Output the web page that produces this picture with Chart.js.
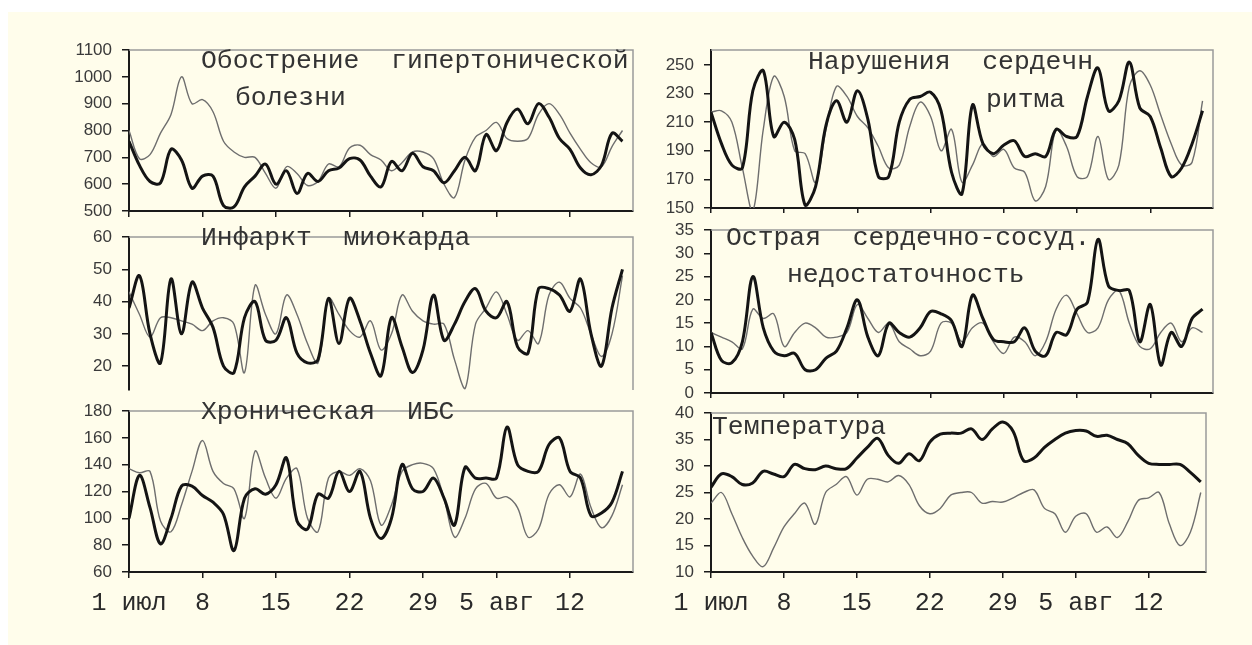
<!DOCTYPE html>
<html>
<head>
<meta charset="utf-8">
<script src="https://cdn.jsdelivr.net/npm/chart.js@4.4.1/dist/chart.umd.min.js"></script>
<style>
  html, body { margin: 0; padding: 0; background: #fff; }
  #page { position: relative; width: 1252px; height: 645px; overflow: hidden; background: #fff; }
  #bg { position: absolute; left: 8px; top: 12px; right: 0; bottom: 0; background: #fffdeb; }
  .wrap { position: absolute; overflow: hidden; }
  canvas { position: absolute; left: 0; top: 0; }
</style>
</head>
<body>
<div id="page"><div id="bg"></div></div>
<script>
// days since 1 July
const days = [0,1,2,3,4,5,6,7,8,9,10,11,12,13,14,15,16,17,18,19,20,21,22,23,
              24,25,26,27,28,29,30,31,32,33,34,35,36,37,38,39,40,41,42,43,44,45,46,47];
const xTicks = [0,7,14,21,28,35,42];
const xTickLabels = ['1 июл','8','15','22','29','5 авг','12'];

// Обострение гипертонической болезни
const hypertBold = [760,670,610,605,730,690,585,630,630,520,515,590,630,675,600,650,565,640,610,650,660,695,690,630,
                    590,685,650,715,665,650,605,650,700,650,785,725,830,880,825,900,850,770,730,660,635,670,790,760];
const hypertThin = [800,695,710,790,860,1000,900,915,870,760,720,700,700,640,585,665,640,595,610,675,665,735,745,710,
                    690,650,680,720,720,695,600,550,690,775,800,830,770,760,770,860,900,860,790,730,680,665,740,800];

// Нарушения сердечного ритма
const rhythmBold = [217,195,180,178,232,246,200,210,198,152,165,208,225,210,232,212,172,172,210,226,228,231,218,175,
                    160,222,195,188,194,197,186,188,186,205,200,200,228,248,218,225,252,220,214,192,172,178,195,218];
const rhythmThin = [217,218,210,178,148,205,242,228,190,188,168,205,235,228,214,206,193,178,180,207,224,214,190,205,
                    168,180,195,186,191,178,175,155,165,205,193,172,172,200,170,180,235,246,236,215,195,180,182,225];

// Инфаркт миокарда
const infarctBold = [38,48,30,21,47,30,46,38,32,20,18,35,40,28,28,35,24,21,22,41,27,41,34,24,
                     17,35,26,18,25,42,28,33,40,44,37,35,40,26,24,44,44,42,37,47,30,20,38,50];
const infarctThin = [43,36,29,35,35,34,33,31,34,35,33,18,45,36,30,42,36,27,21,41,36,31,29,34,
                     25,30,42,37,34,33,33,22,13,33,38,43,36,28,31,27,42,46,41,38,30,23,30,48];

// Острая сердечно-сосудистая недостаточность
const acuteBold = [13,7,6.5,11,25,14,9,8,8.5,5,5,7.5,9,14,20,12,8,15,13,12,14,17.5,17,15.5,
                   10,21,16,11.5,11,11,14,9,8,13,12.5,18,19.5,33,23,22,22,11,19,6,13,10,16,18];
const acuteThin = [13,12,11,9.5,18,16,17,10,13,15,14,12,12,13,19,16,13,15,11,9.5,8,9,15,15,
                   11,14,15,11,8.5,12,11,8,11,18,21,17,13,14,20,22,15,10,9.5,13,15,11,14,13];

// Хроническая ИБС
const ibsBold = [100,132,108,81,100,124,124,117,112,103,76,115,122,118,125,145,98,92,118,115,135,120,135,100,
                 85,100,140,122,120,130,115,95,138,130,130,130,168,140,135,135,155,160,135,130,102,104,112,135];
const ibsThin = [137,134,135,98,90,110,135,158,135,126,122,100,150,130,115,130,137,100,90,130,135,132,137,128,
                 95,110,135,140,141,137,115,86,100,122,126,115,116,108,86,92,118,125,116,133,108,93,102,125];

// Температура
const tempMax = [26,28.5,28,26.5,26.8,29,28.5,28,30.3,29.5,29.3,30,29.5,29.5,31.5,33.5,35.2,32,30.5,32.3,31,34.5,36,36.2,
                 36.2,37,35,37,38.3,36.5,31,31.5,33.5,35,36.2,36.7,36.6,35.6,35.8,35,34.2,32,30.5,30.3,30.3,30.3,28.8,27];
const tempMin = [23,25,21,16.5,13,11,14.5,18.5,21,23,19,25,26.5,28,24.5,27.5,27.5,27,28.2,26.5,22.5,21,22,24.5,
                 25,25,23,23.3,23.2,24,25,25.5,22,21,17.5,20.5,21,17.5,18.5,16.5,19.5,23.5,24,25,19,15,17.5,25];

const panels = [
  { bold: hypertBold, thin: hypertThin, left: 129, right: 633, top: 50, bottom: 211, xMax: 48,
    yMin: 500, yMax: 1100, yTicks: [500,600,700,800,900,1000,1100], xLine: true, xLabels: false, cut: false,
    titles: [['Обострение  гипертонической', 201, 61], ['болезни', 235, 98]] },
  { bold: rhythmBold, thin: rhythmThin, left: 711, right: 1213, top: 50, bottom: 208, xMax: 48,
    yMin: 150, yMax: 260.5, yTicks: [150,170,190,210,230,250], xLine: true, xLabels: false, cut: true,
    titles: [['Нарушения  сердечн', 808, 62], ['ритма', 986, 100]] },
  { bold: infarctBold, thin: infarctThin, left: 129, right: 633, top: 237, bottom: 390, xMax: 48,
    yMin: 12.6, yMax: 60, yTicks: [20,30,40,50,60], xLine: false, xLabels: false, cut: false,
    titles: [['Инфаркт  миокарда', 201, 238]] },
  { bold: acuteBold, thin: acuteThin, left: 711, right: 1213, top: 230, bottom: 393, xMax: 48,
    yMin: 0, yMax: 35, yTicks: [0,5,10,15,20,25,30,35], xLine: true, xLabels: false, cut: true,
    titles: [['Острая  сердечно-сосуд.', 726, 238], ['недостаточность', 787, 275]] },
  { bold: ibsBold, thin: ibsThin, left: 129, right: 633, top: 411, bottom: 572, xMax: 48,
    yMin: 60, yMax: 180, yTicks: [60,80,100,120,140,160,180], xLine: true, xLabels: true, cut: false,
    titles: [['Хроническая  ИБС', 201, 412]] },
  { bold: tempMax, thin: tempMin, left: 711, right: 1206, top: 413, bottom: 572, xMax: 47.5,
    yMin: 10, yMax: 40, yTicks: [10,15,20,25,30,35,40], xLine: true, xLabels: true, cut: false,
    titles: [['Температура', 712, 427]] }
];

Chart.defaults.font.family = '"Liberation Sans", Arial, sans-serif';
const page = document.getElementById('page');

function makePanel(p) {
  // room around the plot area, larger than the tick label padding chart.js asks for
  const padL = 80, padT = 24, padR = 6;
  const xh = p.xLabels ? 48 : 24;
  const w = p.right - p.left + padL + padR;
  const h = p.bottom - p.top + padT + xh;
  const wrap = document.createElement('div');
  wrap.className = 'wrap';
  wrap.style.left = (p.left - padL) + 'px';
  wrap.style.top = (p.top - padT) + 'px';
  wrap.style.width = w + 'px';
  // TR and MR: bottom tick label is half hidden in the original
  wrap.style.height = (p.cut ? h - xh + 5 : h) + 'px';
  const canvas = document.createElement('canvas');
  canvas.width = w;
  canvas.height = h;
  wrap.appendChild(canvas);
  page.appendChild(wrap);

  // gray top/right frame of the plot area
  const frame = {
    id: 'frame',
    beforeDatasetsDraw(chart) {
      const a = chart.chartArea, ctx = chart.ctx;
      ctx.save();
      ctx.strokeStyle = '#9a9a9a';
      ctx.lineWidth = 1.5;
      ctx.beginPath();
      ctx.moveTo(a.left, a.top);
      ctx.lineTo(a.right, a.top);
      ctx.lineTo(a.right, a.bottom);
      ctx.stroke();
      ctx.restore();
    }
  };
  // panel titles written inside the plot area
  const titles = {
    id: 'titles',
    afterDatasetsDraw(chart) {
      const a = chart.chartArea, ctx = chart.ctx;
      ctx.save();
      ctx.font = '26.4px "Liberation Mono", monospace';
      ctx.fillStyle = '#333';
      ctx.textBaseline = 'middle';
      p.titles.forEach(t => ctx.fillText(t[0], a.left + t[1] - p.left, a.top + t[2] - p.top));
      ctx.restore();
    }
  };

  new Chart(canvas, {
    type: 'line',
    data: {
      datasets: [
        { data: days.map((d, i) => ({ x: d, y: p.bold[i] })), borderColor: '#141414', borderWidth: 3 },
        { data: days.map((d, i) => ({ x: d, y: p.thin[i] })), borderColor: '#6e6e6e', borderWidth: 1.4 }
      ]
    },
    options: {
      responsive: false,
      animation: false,
      devicePixelRatio: 1,
      layout: { padding: { top: padT, right: padR, left: 0, bottom: 0 } },
      elements: { point: { radius: 0 }, line: { tension: 0.35 } },
      plugins: { legend: { display: false }, tooltip: { enabled: false } },
      scales: {
        x: {
          type: 'linear', min: 0, max: p.xMax,
          afterBuildTicks: s => { s.ticks = xTicks.map(v => ({ value: v })); },
          afterFit: s => { s.height = xh; },
          border: { display: p.xLine, color: '#1a1a1a', width: 2 },
          grid: { display: p.xLine, drawOnChartArea: false, tickLength: 6, color: '#1a1a1a', lineWidth: 1.5 },
          ticks: {
            display: p.xLabels, autoSkip: false, maxRotation: 0, padding: 10, color: '#2a2a2a',
            font: { family: '"Liberation Mono", monospace', size: 25 },
            callback: (v, i) => xTickLabels[i]
          }
        },
        y: {
          min: p.yMin, max: p.yMax,
          afterBuildTicks: s => { s.ticks = p.yTicks.map(v => ({ value: v })); },
          afterFit: s => { s.width = padL; },
          border: { color: '#1a1a1a', width: 2 },
          grid: { drawOnChartArea: false, tickLength: 7, color: '#1a1a1a', lineWidth: 1.5 },
          ticks: { autoSkip: false, padding: 10, color: '#3a3a3a', font: { size: 17 }, callback: v => String(v) }
        }
      }
    },
    plugins: [frame, titles]
  });
}

panels.forEach(makePanel);
</script>
</body>
</html>
